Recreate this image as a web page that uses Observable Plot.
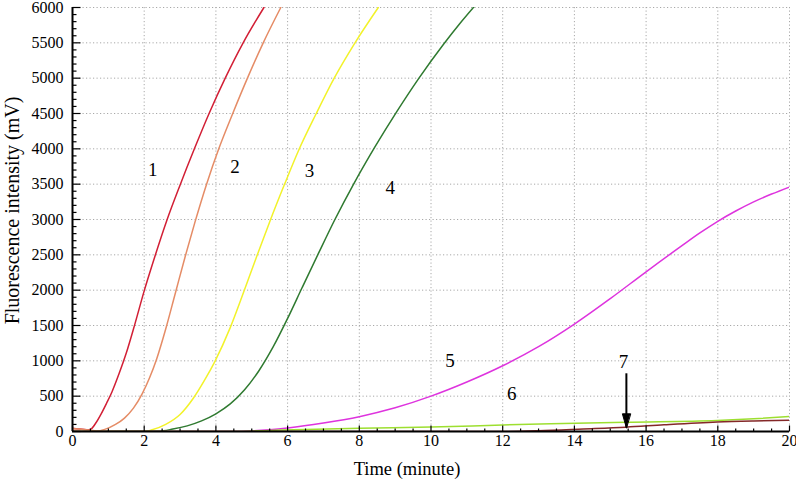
<!DOCTYPE html>
<html>
<head>
<meta charset="utf-8">
<script src="https://cdn.jsdelivr.net/npm/d3@7"></script>
<script src="https://cdn.jsdelivr.net/npm/@observablehq/plot@0.6"></script>
<style>
  html, body { margin: 0; padding: 0; background: #ffffff; }
  #chart svg { display: block; }
</style>
</head>
<body>
<div id="chart"></div>
<script>
// ---- Data ----
const curve1Time  = [0, 0.2, 0.4, 0.5, 0.65, 0.8, 0.95, 1.1, 1.3, 1.5, 1.74, 2.0, 2.3, 2.64, 3.01, 3.40, 3.81, 4.26, 4.76, 5.34];
const curve1Value = [45, 35, 25, 30, 120, 250, 400, 560, 820, 1110, 1520, 1990, 2480, 3000, 3500, 4000, 4500, 5000, 5500, 6000];

const curve2Time  = [0, 0.3, 0.67, 0.9, 1.2, 1.45, 1.7, 1.95, 2.15, 2.35, 2.6, 2.87, 3.14, 3.42, 3.74, 4.08, 4.47, 4.88, 5.32, 5.81];
const curve2Value = [40, 30, 8, 30, 100, 190, 330, 540, 760, 1030, 1450, 1960, 2470, 2970, 3500, 4000, 4500, 5000, 5500, 6000];

const curve3Time  = [0, 2.0, 2.2, 2.6, 3.0, 3.37, 3.7, 3.97, 4.40, 4.78, 5.14, 5.51, 5.9, 6.3, 6.8, 7.3, 7.88, 8.53];
const curve3Value = [0, 0, 20, 100, 240, 470, 740, 990, 1470, 1980, 2480, 2980, 3480, 3970, 4500, 5000, 5500, 6000];

const curve4Time  = [0, 2.4, 2.8, 3.2, 3.6, 4.0, 4.4, 4.8, 5.2, 5.6, 6.0, 6.4, 6.86, 7.32, 7.83, 8.44, 9.05, 9.65, 10.35, 10.8, 11.2];
const curve4Value = [0, 5, 35, 80, 150, 250, 390, 590, 860, 1200, 1600, 2030, 2520, 3000, 3490, 4030, 4530, 4990, 5480, 5770, 6010];

const curve5Time  = [0, 4.5, 5.0, 5.5, 6, 7, 8, 9, 10, 11, 12, 13, 14, 15, 16, 17, 17.5, 18, 18.5, 19, 19.5, 20];
const curve5Value = [0, 0, 8, 25, 50, 120, 210, 335, 500, 700, 930, 1200, 1520, 1880, 2260, 2630, 2810, 2975, 3120, 3250, 3360, 3460];

const curve6Time  = [0, 4.5, 5.5, 6.5, 8.0, 10.0, 12.0, 13.34, 15.44, 17.98, 19.0, 20.0];
const curve6Value = [0, 0, 15, 30, 47, 62, 92, 109, 132, 156, 180, 212];

const curve7Time  = [0, 12, 13, 14.25, 15.44, 16.5, 17.98, 19.0, 20.0];
const curve7Value = [0, 0, 10, 35, 61, 95, 135, 150, 160];

const curveColors = ["#d21f35", "#e58c66", "#f2f22a", "#2f7a30", "#de33de", "#9ddf30", "#842828"];

const labelText  = ["1", "2", "3", "4", "5", "6", "7"];
const labelTime  = [2.24, 4.53, 6.61, 8.86, 10.53, 12.25, 15.37];
const labelValue = [3703, 3750, 3683, 3453, 1005, 533, 981];

const arrowTime = [15.45];
const arrowFrom = [675];
const arrowTo   = [52];

const xMajor = [0, 2, 4, 6, 8, 10, 12, 14, 16, 18, 20];
const yMajor = [0, 500, 1000, 1500, 2000, 2500, 3000, 3500, 4000, 4500, 5000, 5500, 6000];
const xTitle = "Time (minute)";
const yTitle = "Fluorescence intensity (mV)";

// ---- Build tables ----
const curveTimes  = [curve1Time, curve2Time, curve3Time, curve4Time, curve5Time, curve6Time, curve7Time];
const curveValues = [curve1Value, curve2Value, curve3Value, curve4Value, curve5Value, curve6Value, curve7Value];
const rows = curveTimes.flatMap((ts, k) => ts.map((t, i) => ({curve: labelText[k], t, v: curveValues[k][i]})));
const labels = labelText.map((s, i) => ({s, t: labelTime[i], v: labelValue[i]}));
const arrows = arrowTime.map((t, i) => ({t, from: arrowFrom[i], to: arrowTo[i]}));

const xMinor = d3.range(0, 20.001, 0.5).filter(d => d % 2 !== 0);
const yMinor = d3.range(0, 6000.001, 100).filter(d => d % 500 !== 0);

const tickUp = {draw(ctx, l) { ctx.moveTo(0, 0); ctx.lineTo(0, -l); }};
const tickRight = {draw(ctx, l) { ctx.moveTo(0, 0); ctx.lineTo(l, 0); }};
const arrowHead = {draw(ctx, l) { ctx.moveTo(0, 0); ctx.lineTo(-4, -l); ctx.lineTo(4, -l); ctx.closePath(); }};

const serif = "'Liberation Serif', 'Times New Roman', serif";
const gridStyle = {stroke: "#a8a8a8", strokeOpacity: 1, strokeWidth: 1, strokeDasharray: "1.2,2.3"};

const chart = Plot.plot({
  width: 796,
  height: 481,
  marginLeft: 72,
  marginRight: 7,
  marginTop: 7,
  marginBottom: 50,
  style: {fontFamily: serif, fontSize: "16px", background: "#ffffff", color: "#000000", overflow: "visible"},
  x: {domain: [0, 20]},
  y: {domain: [0, 6000]},
  color: {domain: labelText, range: curveColors},
  marks: [
    Plot.gridX(xMajor.filter(d => d > 0), gridStyle),
    Plot.gridY(yMajor.filter(d => d > 0), gridStyle),
    Plot.line(rows, {x: "t", y: "v", z: "curve", stroke: "curve", strokeWidth: 1.5, curve: "monotone-x", clip: true}),
    // inward tick marks
    Plot.vector(xMinor, {x: d => d, y: 0, length: 3, anchor: "start", shape: tickUp, stroke: "black", strokeWidth: 1.2, strokeLinecap: "butt"}),
    Plot.vector(xMajor, {x: d => d, y: 0, length: 6, anchor: "start", shape: tickUp, stroke: "black", strokeWidth: 1.2, strokeLinecap: "butt"}),
    Plot.vector(yMinor, {x: 0, y: d => d, length: 4, anchor: "start", shape: tickRight, stroke: "black", strokeWidth: 1.2, strokeLinecap: "butt"}),
    Plot.vector(yMajor, {x: 0, y: d => d, length: 8, anchor: "start", shape: tickRight, stroke: "black", strokeWidth: 1.2, strokeLinecap: "butt"}),
    Plot.ruleY([0], {stroke: "black", strokeWidth: 2}),
    Plot.ruleX([0], {stroke: "black", strokeWidth: 2}),
    // tick labels
    Plot.axisX({ticks: xMajor, tickSize: 0, tickPadding: 3, fontSize: 16, label: null, tickFormat: d => String(d)}),
    Plot.axisY({ticks: yMajor, tickSize: 0, tickPadding: 9, fontSize: 16, label: null, tickFormat: d => String(d)}),
    // curve labels
    Plot.text(labels, {x: "t", y: "v", text: "s", fontSize: 19, fill: "black"}),
    // arrow pointing at curve 7
    Plot.ruleX(arrows, {x: "t", y1: "to", y2: "from", stroke: "black", strokeWidth: 2, insetBottom: 10}),
    Plot.vector(arrows, {x: "t", y: "to", length: 14, anchor: "start", shape: arrowHead, fill: "black", stroke: "black", strokeWidth: 1}),
    // axis titles
    Plot.text([xTitle], {frameAnchor: "bottom", text: d => d, textAnchor: "middle", lineAnchor: "middle", dx: -24, dy: 38, fontSize: 18.5, fill: "black"}),
    Plot.text([yTitle], {frameAnchor: "left", text: d => d, textAnchor: "middle", lineAnchor: "middle", rotate: -90, dx: -60, dy: -9, fontSize: 20, fill: "black"})
  ]
});

document.getElementById("chart").appendChild(chart);
</script>
</body>
</html>
